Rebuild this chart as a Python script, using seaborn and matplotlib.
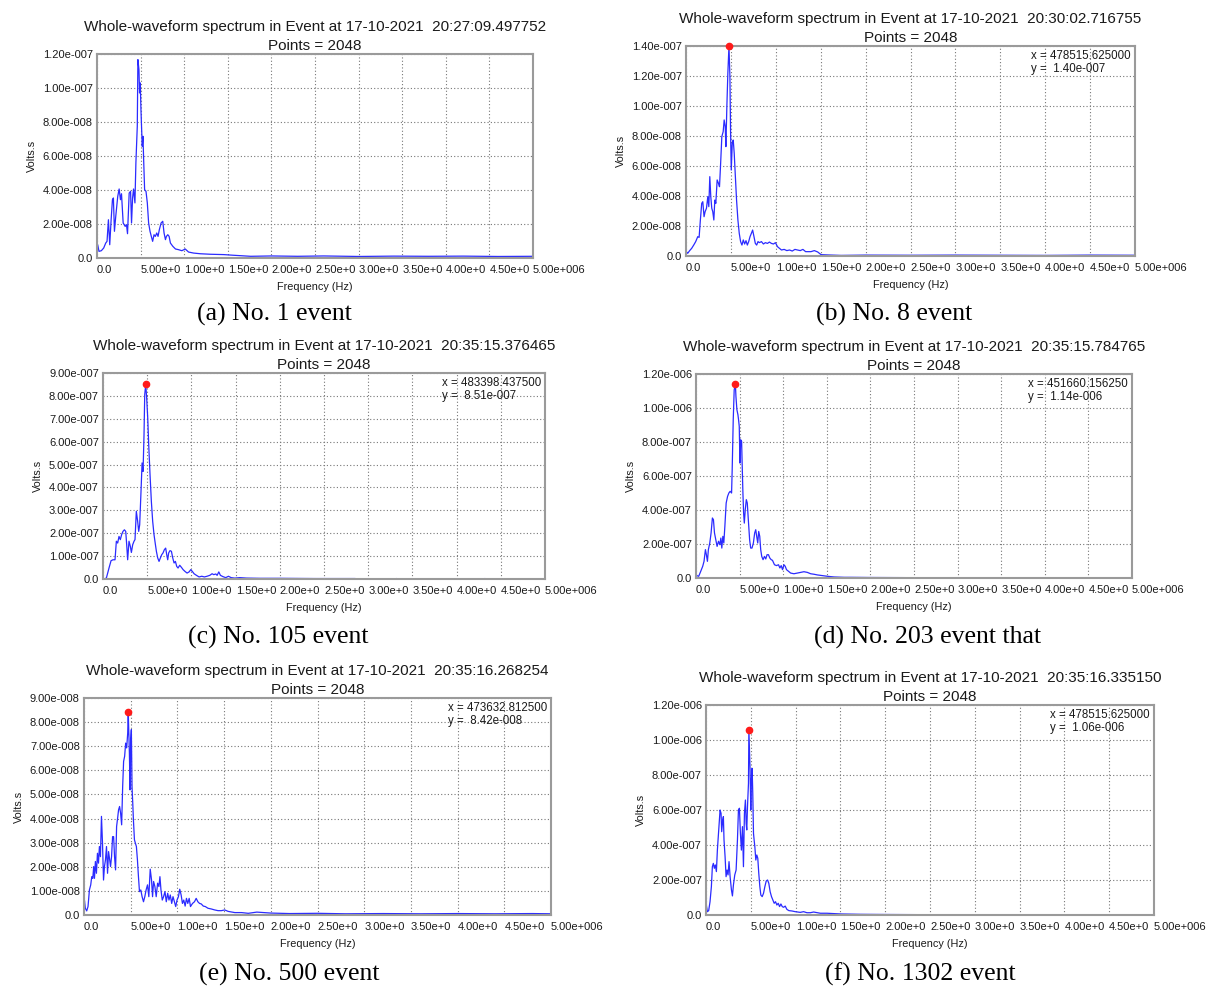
import numpy as np
import matplotlib
matplotlib.use("Agg")
import matplotlib.pyplot as plt
import seaborn as sns

# ---------------------------------------------------------------- data
# Frequencies in kHz, amplitudes in units of the panel's scale (Volts.s)

TITLES = [
    "Whole-waveform spectrum in Event at 17-10-2021  20:27:09.497752",
    "Whole-waveform spectrum in Event at 17-10-2021  20:30:02.716755",
    "Whole-waveform spectrum in Event at 17-10-2021  20:35:15.376465",
    "Whole-waveform spectrum in Event at 17-10-2021  20:35:15.784765",
    "Whole-waveform spectrum in Event at 17-10-2021  20:35:16.268254",
    "Whole-waveform spectrum in Event at 17-10-2021  20:35:16.335150",
]
SUBTITLE = "Points = 2048"
CAPTIONS = ["(a) No. 1 event", "(b) No. 8 event", "(c) No. 105 event",
            "(d) No. 203 event that", "(e) No. 500 event", "(f) No. 1302 event"]
Y_MAX = [1.2e-7, 1.4e-7, 9e-7, 1.2e-6, 9e-8, 1.2e-6]
Y_STEP = [2e-8, 2e-8, 1e-7, 2e-7, 1e-8, 2e-7]
SCALES = [1e-8, 1e-8, 1e-7, 1e-7, 1e-8, 1e-7]
SHOW_PEAK = [False, True, True, True, True, True]

A_FREQ = [8, 23, 50, 77, 100, 115, 131, 146, 162, 177, 188, 200, 215, 238, 254, 269, 281, 300,
          323, 338, 350, 369, 385, 396, 408, 419, 435, 446, 462, 469, 481, 488, 496, 504, 512,
          519, 527, 535, 546, 562, 577, 592, 608, 623, 638, 654, 669, 685, 700, 715, 735, 754,
          769, 785, 796, 812, 827, 842, 869, 900, 935, 973, 1012, 1050, 1108, 1185, 1300, 1454,
          1569, 1762, 2000, 2300, 2600, 3000, 3400, 3800, 4200, 4600, 5000]
A_AMP = [0.78, 0.39, 0.43, 0.59, 0.88, 0.98, 2.25, 0.78, 2.25, 3.43, 3.53, 1.57, 2.45, 3.63,
         4.06, 3.43, 3.78, 2.06, 1.86, 1.96, 1.43, 3.82, 3.92, 2.06, 3.53, 4.06, 3.24, 5.59,
         7.75, 11.67, 11.08, 9.71, 10.3, 8.73, 7.55, 6.57, 7.16, 5.78, 4.02, 3.92, 3.24, 2.06,
         1.57, 1.27, 0.98, 1.37, 1.27, 1.47, 1.27, 1.67, 2.06, 2.16, 1.47, 1.08, 1.27, 1.37,
         1.27, 0.88, 0.69, 0.53, 0.49, 0.43, 0.53, 0.35, 0.29, 0.25, 0.22, 0.20, 0.16, 0.10,
         0.12, 0.10, 0.12, 0.09, 0.11, 0.10, 0.11, 0.09, 0.10]

B_FREQ = [4, 19, 41, 63, 86, 108, 131, 146, 160, 175, 187, 201, 213, 228, 243, 254, 265, 276,
          287, 298, 310, 321, 332, 347, 362, 373, 384, 399, 414, 425, 437, 444, 455, 466,
          478.515625, 489, 496, 504, 515, 526, 537, 548, 563, 578, 593, 608, 623, 638, 653, 668,
          683, 698, 713, 728, 742, 757, 772, 787, 802, 817, 840, 862, 884, 907, 929, 951, 974,
          996, 1019, 1041, 1063, 1093, 1123, 1153, 1183, 1213, 1242, 1272, 1302, 1332, 1392,
          1429, 1466, 1504, 1578, 1727, 2000, 2500, 3000, 3500, 4000, 4500, 5000]
B_AMP = [0.29, 0.18, 0.36, 0.51, 0.73, 0.96, 1.29, 1.24, 2.40, 3.51, 3.62, 2.62, 2.96, 3.18,
         3.96, 3.29, 5.29, 3.96, 3.18, 2.96, 2.40, 3.73, 3.51, 5.07, 4.84, 4.62, 5.96, 7.96,
         8.29, 9.07, 8.62, 7.29, 9.96, 12.18, 14.0, 11.95, 8.40, 5.73, 7.51, 7.73, 6.84, 5.51,
         3.73, 2.40, 1.51, 0.96, 0.73, 1.07, 0.80, 1.02, 0.73, 0.96, 1.29, 1.51, 1.73, 1.29,
         0.84, 0.73, 0.96, 0.89, 0.96, 0.80, 0.89, 0.84, 0.93, 0.84, 0.80, 0.89, 0.62, 0.51,
         0.40, 0.44, 0.36, 0.40, 0.33, 0.44, 0.40, 0.36, 0.44, 0.29, 0.29, 0.36, 0.27, 0.09,
         0.07, 0.04, 0.06, 0.05, 0.06, 0.05, 0.04, 0.06, 0.05]

C_FREQ = [8, 38, 68, 91, 113, 136, 151, 166, 181, 196, 211, 226, 242, 257, 268, 279, 294, 309,
          321, 336, 351, 362, 377, 392, 404, 415, 430, 442, 453, 464, 472, 483.3984375, 494,
          506, 517, 532, 547, 562, 577, 593, 604, 619, 634, 649, 664, 679, 694, 709, 721, 732,
          743, 758, 774, 789, 804, 819, 834, 849, 868, 887, 906, 928, 951, 974, 993, 1011, 1030,
          1057, 1087, 1117, 1147, 1177, 1208, 1234, 1253, 1276, 1291, 1310, 1328, 1359, 1389,
          1419, 1449, 1491, 1547, 1623, 1774, 2000, 2400, 2850, 2900, 3300, 3320, 3340, 4300,
          4320, 4340, 5000]
C_AMP = [0.0, 0.04, 0.48, 0.80, 0.84, 0.84, 1.65, 1.57, 1.86, 1.72, 1.94, 2.08, 2.15, 2.08,
         1.50, 0.84, 1.65, 1.43, 1.16, 1.50, 1.65, 1.72, 2.96, 2.52, 2.08, 2.37, 3.83, 5.07,
         4.70, 6.30, 8.05, 8.51, 7.91, 7.03, 5.87, 4.56, 3.39, 2.52, 1.94, 1.50, 1.21, 0.92,
         0.77, 0.92, 1.06, 1.14, 1.28, 1.35, 1.06, 0.84, 1.14, 1.24, 1.21, 0.92, 0.70, 0.77,
         0.55, 0.48, 0.60, 0.51, 0.41, 0.33, 0.26, 0.31, 0.41, 0.33, 0.23, 0.16, 0.09, 0.12,
         0.09, 0.12, 0.16, 0.23, 0.19, 0.22, 0.16, 0.31, 0.16, 0.10, 0.06, 0.12, 0.06, 0.04,
         0.06, 0.04, 0.03, 0.03, 0.02, 0.02, 0.0, 0.0, 0.02, 0.0, 0.0, 0.02, 0.0, 0.0]

D_FREQ = [8, 31, 54, 77, 92, 108, 119, 131, 142, 158, 173, 188, 200, 212, 227, 242, 258, 273,
          285, 296, 308, 319, 331, 346, 362, 377, 392, 408, 415, 427, 438, 451.66015625, 458,
          469, 481, 488, 496, 504, 512, 523, 531, 538, 546, 554, 565, 577, 588, 600, 615, 627,
          642, 658, 673, 685, 696, 708, 719, 731, 742, 754, 769, 785, 800, 815, 831, 846, 862,
          877, 900, 923, 946, 962, 977, 992, 1008, 1023, 1038, 1062, 1085, 1123, 1162, 1200,
          1238, 1277, 1315, 1354, 1392, 1450, 1508, 1585, 1700, 1777, 2000, 2500, 3000, 3050,
          3850, 3900, 4100, 4150, 5000]
D_AMP = [0.14, 0.10, 0.39, 0.69, 0.98, 1.67, 1.37, 0.98, 1.67, 2.06, 2.65, 3.53, 3.43, 2.65,
         2.25, 1.86, 2.16, 1.96, 2.35, 1.76, 2.45, 2.06, 3.04, 4.41, 4.80, 5.00, 5.10, 5.00,
         6.37, 9.31, 11.07, 11.4, 10.68, 9.90, 9.60, 9.31, 8.92, 6.76, 8.13, 8.04, 6.37, 5.00,
         3.82, 3.23, 4.02, 4.61, 4.41, 3.43, 2.25, 1.76, 1.76, 2.06, 2.65, 2.84, 2.45, 2.06,
         2.74, 2.45, 1.67, 1.27, 1.08, 1.27, 1.12, 1.37, 1.37, 1.18, 1.08, 1.04, 0.78, 0.73,
         0.78, 0.59, 0.73, 0.49, 0.78, 0.69, 0.49, 0.39, 0.29, 0.25, 0.29, 0.33, 0.37, 0.33,
         0.25, 0.22, 0.18, 0.14, 0.10, 0.06, 0.04, 0.04, 0.03, 0.02, 0.02, 0.0, 0.0, 0.02,
         0.02, 0.0, 0.0]

E_FREQ = [4, 14, 29, 43, 58, 72, 83, 94, 104, 112, 122, 133, 144, 155, 165, 176, 187, 198, 209,
          219, 230, 241, 252, 263, 273, 284, 295, 306, 317, 327, 338, 349, 360, 370, 381, 392,
          403, 414, 424, 435, 446, 457, 468, 473.6328125, 486, 493, 500, 507, 514, 522, 529,
          540, 550, 561, 572, 583, 594, 608, 622, 637, 651, 665, 680, 694, 709, 723, 734, 745,
          759, 773, 788, 802, 813, 824, 838, 852, 867, 881, 896, 910, 924, 939, 953, 968, 982,
          996, 1011, 1025, 1040, 1054, 1068, 1083, 1097, 1111, 1126, 1140, 1162, 1183, 1201,
          1219, 1237, 1255, 1277, 1299, 1327, 1363, 1399, 1435, 1471, 1507, 1543, 1615, 1687,
          1759, 1850, 2000, 2200, 2500, 2800, 3200, 3600, 4000, 4400, 4800, 5000]
E_AMP = [0.65, 0.28, 0.17, 0.35, 1.04, 1.25, 1.59, 1.52, 2.01, 1.52, 2.22, 1.73, 2.56, 2.15,
         2.84, 2.42, 4.09, 2.98, 1.45, 2.01, 2.29, 2.84, 1.73, 2.63, 2.35, 2.01, 2.42, 3.25,
         3.25, 2.42, 1.87, 3.67, 4.02, 4.36, 4.50, 4.22, 3.74, 5.33, 6.37, 6.58, 7.13, 6.93,
         7.55, 8.42, 6.72, 5.19, 7.27, 7.69, 5.33, 4.64, 3.95, 3.12, 2.98, 2.84, 2.29, 1.59,
         0.97, 1.04, 0.76, 0.55, 0.76, 1.04, 1.25, 0.76, 1.90, 1.45, 0.76, 1.39, 1.18, 0.76,
         1.32, 1.18, 1.59, 1.04, 0.62, 0.76, 0.97, 0.55, 0.90, 0.62, 0.83, 0.48, 0.76, 0.55,
         0.35, 0.62, 0.76, 1.07, 0.83, 0.48, 0.62, 0.37, 0.69, 0.48, 0.69, 0.35, 0.48, 0.55,
         0.69, 0.55, 0.48, 0.46, 0.37, 0.35, 0.28, 0.25, 0.21, 0.18, 0.18, 0.21, 0.15, 0.10,
         0.10, 0.07, 0.12, 0.08, 0.06, 0.07, 0.05, 0.06, 0.05, 0.06, 0.05, 0.06, 0.05]

F_FREQ = [4, 15, 30, 45, 60, 71, 82, 93, 104, 116, 127, 142, 157, 168, 175, 187, 194, 201, 213,
          224, 235, 246, 257, 269, 284, 295, 306, 321, 336, 351, 362, 373, 384, 395, 407, 418,
          429, 440, 448, 455, 463, 474, 478.515625, 492, 500, 507, 515, 522, 530, 537, 545, 556,
          567, 578, 589, 601, 612, 627, 642, 657, 672, 687, 701, 716, 731, 746, 761, 776, 791,
          806, 821, 836, 851, 866, 884, 903, 925, 959, 996, 1052, 1089, 1127, 1164, 1201, 1276,
          1351, 1425, 1500, 1724, 2000, 2400, 2600, 2650, 3040, 3060, 3480, 3500, 5000]
F_AMP = [0.57, 0.19, 0.25, 0.76, 1.62, 2.76, 2.95, 2.67, 2.86, 2.48, 3.71, 4.86, 6.00, 5.81,
         4.76, 5.43, 5.62, 4.29, 3.33, 2.19, 2.57, 2.29, 3.05, 2.19, 1.43, 1.09, 1.71, 2.29,
         2.57, 4.29, 6.00, 6.10, 4.67, 3.71, 5.05, 2.76, 5.81, 6.57, 5.24, 4.86, 6.19, 7.52,
         10.6, 8.29, 6.00, 7.72, 8.38, 6.95, 4.67, 4.29, 3.91, 3.14, 3.43, 3.24, 2.38, 1.62,
         1.14, 1.05, 1.24, 1.62, 1.94, 2.00, 1.81, 1.33, 1.05, 0.86, 0.67, 0.76, 0.57, 0.67,
         0.48, 0.63, 0.48, 0.44, 0.51, 0.32, 0.25, 0.23, 0.19, 0.15, 0.19, 0.13, 0.13, 0.17,
         0.10, 0.10, 0.08, 0.06, 0.04, 0.03, 0.02, 0.02, 0.0, 0.02, 0.0, 0.02, 0.0, 0.0]

FREQS = [A_FREQ, B_FREQ, C_FREQ, D_FREQ, E_FREQ, F_FREQ]
AMPS = [A_AMP, B_AMP, C_AMP, D_AMP, E_AMP, F_AMP]

# the acquisition software prints its frequency labels so tightly that each
# one is cut short by its right-hand neighbour; only the last is whole
X_TICKS_HZ = [0, 5e5, 1e6, 1.5e6, 2e6, 2.5e6, 3e6, 3.5e6, 4e6, 4.5e6, 5e6]
X_TICK_LABELS = ["0.0", "5.00e+0", "1.00e+0", "1.50e+0", "2.00e+0", "2.50e+0",
                 "3.00e+0", "3.50e+0", "4.00e+0", "4.50e+0", "5.00e+006"]

# ---------------------------------------------------------------- layout
W, H = 1221, 989
# axes boxes in pixels: left, right, top, bottom
BOXES = [(97, 533, 54, 258), (686, 1135, 46, 256),
         (103, 545, 373, 579), (696, 1132, 374, 578),
         (84, 551, 698, 915), (706, 1154, 705, 915)]
CAPTION_POS = [(274, 314), (894, 314), (278, 637), (928, 637), (289, 974), (920, 974)]


def sci(v):
    if v == 0:
        return "0.0"
    e = int(np.floor(np.log10(abs(v)) + 1e-9))
    m = v / 10 ** e
    return f"{m:.2f}e{'-' if e < 0 else '+'}{abs(e):03d}"


sns.set_theme(style="white")
plt.rcParams["font.family"] = ["Liberation Sans", "DejaVu Sans"]

fig = plt.figure(figsize=(W / 100, H / 100), dpi=100)
fig.patch.set_facecolor("white")

TEXT_C = "#1a1a1a"
LINE_C = "#2b2bff"

for i in range(6):
    l, r, t, b = BOXES[i]
    ax = fig.add_axes([l / W, 1 - b / H, (r - l) / W, (b - t) / H])
    ax.set_facecolor("white")

    f_hz = np.asarray(FREQS[i], dtype=float) * 1e3
    amp = np.asarray(AMPS[i], dtype=float) * SCALES[i]
    sns.lineplot(x=f_hz, y=amp, ax=ax, color=LINE_C, linewidth=0.9,
                 estimator=None, sort=False, zorder=2)

    ax.set_xlim(0, 5e6)
    ax.set_ylim(0, Y_MAX[i])
    yt = np.arange(0, Y_MAX[i] + Y_STEP[i] / 2, Y_STEP[i])
    ax.set_yticks(yt)
    ax.set_yticklabels([sci(v) for v in yt], fontsize=8, color=TEXT_C)
    ax.set_xticks(X_TICKS_HZ)
    ax.set_xticklabels(X_TICK_LABELS, fontsize=8, color=TEXT_C, ha="left")
    ax.tick_params(axis="both", length=0)
    ax.tick_params(axis="y", pad=3)
    ax.tick_params(axis="x", pad=5)

    ax.grid(True, color="#777777", linestyle=(0, (1, 2)), linewidth=0.8)
    for sp in ax.spines.values():
        sp.set_color("#9a9a9a")
        sp.set_linewidth(1.5)
        sp.set_zorder(2.5)

    ax.set_xlabel("Frequency (Hz)", fontsize=7.8, color=TEXT_C, labelpad=5)
    ax.set_ylabel("Volts.s", fontsize=7.8, color=TEXT_C, labelpad=4)
    ax.set_title(TITLES[i] + "\n" + SUBTITLE, fontsize=11, color=TEXT_C,
                 pad=3, linespacing=1.4)

    if SHOW_PEAK[i]:
        k = int(np.argmax(amp))
        px, py = f_hz[k], amp[k]
        ax.plot([px], [py], "o", color="#ff1a1a", markersize=4.5, zorder=4,
                clip_on=False)
        ax.annotate(f"x = {px:.6f}\ny =  {sci(py)}", xy=(1, 1), xycoords="axes fraction",
                    xytext=(-3, -3), textcoords="offset points", ha="right", va="top",
                    multialignment="left", fontsize=8.3, color=TEXT_C, linespacing=1.1)

    cx, cy = CAPTION_POS[i]
    fig.text(cx / W, 1 - cy / H, CAPTIONS[i], ha="center", va="center",
             fontsize=18.5, family="Liberation Serif", color="black")

fig.savefig("out.png", dpi=100, facecolor="white")
